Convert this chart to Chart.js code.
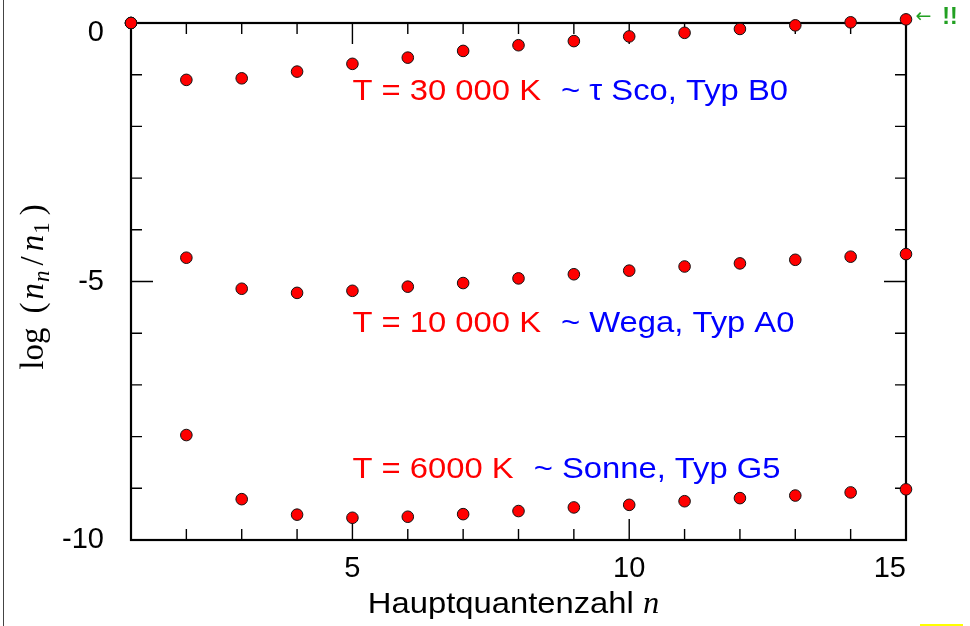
<!DOCTYPE html>
<html>
<head>
<meta charset="utf-8">
<script src="https://cdn.jsdelivr.net/npm/chart.js@4.4.1/dist/chart.umd.min.js"></script>
<style>
html,body{margin:0;padding:0;background:#fff;}
#wrap{position:relative;width:970px;height:626px;overflow:hidden;background:#fff;}
#c{position:absolute;left:0;top:0;width:970px;height:626px;}
#edge{position:absolute;left:3px;top:0;width:1px;height:626px;background:#444;}
#mark{position:absolute;left:920px;top:624px;width:43px;height:2px;background:#ffff00;}
</style>
</head>
<body>
<div id="wrap">
<canvas id="c" width="970" height="626"></canvas>
<div id="edge"></div>
<div id="mark"></div>
</div>
<script>
// ---- data ----
const quantumNumbers = [1, 2, 3, 4, 5, 6, 7, 8, 9, 10, 11, 12, 13, 14, 15];
const logRatio30000 = [0, -1.10, -1.07, -0.94, -0.79, -0.67, -0.54, -0.43, -0.35, -0.26, -0.19, -0.115, -0.045, 0.013, 0.07];
const logRatio10000 = [0, -4.54, -5.14, -5.22, -5.18, -5.10, -5.03, -4.94, -4.86, -4.79, -4.71, -4.65, -4.58, -4.52, -4.47];
const logRatio6000  = [0, -7.97, -9.21, -9.51, -9.57, -9.55, -9.50, -9.44, -9.37, -9.32, -9.25, -9.19, -9.14, -9.08, -9.02];
const xTickLabels = [5, 10, 15];
const yTickLabels = [0, -5, -10];
const tempLabels = ['T = 30 000 K', 'T = 10 000 K', 'T = 6000 K'];
const starLabels = ['~ \u03C4 Sco, Typ B0', '~ Wega, Typ A0', '~ Sonne, Typ G5'];
const labelN = [5, 5, 5];
const labelLog = [-1.33, -5.82, -8.65];
const noteText = ['\u2190', '!!'];
const noteN = 15.17;
const noteLog = 0.11;
const xTitle = ['Hauptquantenzahl ', 'n'];

const SX = 1.13; // horizontal stretch of the reference lettering

function drawRich(ctx, segs, x, y, align) {
  let w = 0;
  segs.forEach(s => { ctx.font = s.font; s.w = ctx.measureText(s.text).width * (s.sx || SX) + (s.gap || 0); w += s.w; });
  let cx = align === 'center' ? x - w / 2 : x;
  segs.forEach(s => {
    ctx.font = s.font; ctx.fillStyle = s.color || '#000';
    ctx.save();
    ctx.translate(cx + (s.gap || 0), y + (s.dy || 0));
    ctx.scale(s.sx || SX, 1);
    ctx.fillText(s.text, 0, 0);
    ctx.restore();
    cx += s.w;
  });
}

const framePlugin = {
  id: 'frame',
  beforeDatasetsDraw(chart) {
    const { ctx, chartArea: a, scales: { x, y } } = chart;
    ctx.save();
    ctx.strokeStyle = '#000';
    ctx.lineWidth = 1.4;
    ctx.beginPath();
    for (let n = Math.ceil(x.min) + 1; n < x.max; n++) {
      const px = x.getPixelForValue(n);
      const len = n % 5 === 0 ? 21 : 11;
      ctx.moveTo(px, a.bottom); ctx.lineTo(px, a.bottom - len);
      ctx.moveTo(px, a.top); ctx.lineTo(px, a.top + len);
    }
    for (let v = Math.ceil(y.min) + 1; v < y.max; v++) {
      const py = y.getPixelForValue(v);
      const len = v % 5 === 0 ? 22 : 11;
      ctx.moveTo(a.left, py); ctx.lineTo(a.left + len, py);
      ctx.moveTo(a.right, py); ctx.lineTo(a.right - len, py);
    }
    ctx.stroke();
    ctx.lineWidth = 2.2;
    ctx.strokeRect(a.left, a.top, a.right - a.left, a.bottom - a.top);
    ctx.restore();
  },
  afterDatasetsDraw(chart) {
    const { ctx, chartArea: a, scales: { x, y } } = chart;
    ctx.save();
    // annotations
    ctx.textBaseline = 'middle';
    tempLabels.forEach((t, i) => {
      drawRich(ctx, [
        { text: t, font: '29px "Liberation Sans"', color: '#ff0000' },
        { text: starLabels[i], font: '29px "Liberation Sans"', color: '#0000ff', gap: 20 }
      ], x.getPixelForValue(labelN[i]), y.getPixelForValue(labelLog[i]), 'left');
    });
    // green note
    drawRich(ctx, [
      { text: noteText[0], font: '19px "DejaVu Sans"', color: '#22a022', sx: 1 },
      { text: noteText[1], font: 'bold 23px "Liberation Sans"', color: '#22a022', gap: 11, sx: 1 }
    ], x.getPixelForValue(noteN), y.getPixelForValue(noteLog), 'left');
    // x title
    ctx.textBaseline = 'alphabetic';
    drawRich(ctx, [
      { text: xTitle[0], font: '29px "Liberation Sans"' },
      { text: xTitle[1], font: 'italic 31px "Liberation Serif"', sx: 1.05 }
    ], (a.left + a.right) / 2 - 5, 613, 'center');
    // y title (rotated)
    ctx.save();
    ctx.translate(43, 287);
    ctx.rotate(-Math.PI / 2);
    const serif = '33px "Liberation Serif"', it = 'italic 33px "Liberation Serif"', sub = 'italic 23px "Liberation Serif"', subR = '23px "Liberation Serif"';
    drawRich(ctx, [
      { text: 'log', font: serif, sx: 1 },
      { text: '(', font: serif, gap: 14, sx: 1 },
      { text: 'n', font: it, gap: 3, sx: 1 },
      { text: 'n', font: sub, dy: 6, gap: 1, sx: 1 },
      { text: '/', font: serif, gap: 5, sx: 1 },
      { text: 'n', font: it, gap: 5, sx: 1 },
      { text: '1', font: subR, dy: 6, gap: 1, sx: 1 },
      { text: ')', font: serif, gap: 7, sx: 1 }
    ], 0, 0, 'center');
    ctx.restore();
    ctx.restore();
  }
};

function series(vals) {
  return quantumNumbers.map((n, i) => ({ x: n, y: vals[i] }));
}
const pointStyle = {
  pointRadius: 5.8,
  pointBackgroundColor: '#ff0000',
  pointBorderColor: '#111',
  pointBorderWidth: 1,
  showLine: false,
  clip: false
};

new Chart(document.getElementById('c'), {
  type: 'scatter',
  data: {
    datasets: [
      Object.assign({ label: 'T = 30 000 K', data: series(logRatio30000) }, pointStyle),
      Object.assign({ label: 'T = 10 000 K', data: series(logRatio10000) }, pointStyle),
      Object.assign({ label: 'T = 6000 K', data: series(logRatio6000) }, pointStyle)
    ]
  },
  options: {
    responsive: false,
    devicePixelRatio: 1,
    animation: false,
    layout: { padding: { left: 0, right: 64, top: 23, bottom: 0 } },
    plugins: { legend: { display: false }, tooltip: { enabled: false } },
    scales: {
      x: {
        type: 'linear', position: 'bottom', min: 1, max: 15,
        grid: { display: false, drawTicks: false },
        border: { display: false },
        afterBuildTicks: s => { s.ticks = [{ value: s.min }].concat(xTickLabels.map(v => ({ value: v }))); },
        afterFit: s => { s.height = 86; s.paddingLeft = 0; s.paddingRight = 0; },
        ticks: {
          autoSkip: false, maxRotation: 0, padding: 12, color: '#000', align: 'inner',
          font: { family: '"Liberation Sans"', size: 29 },
          callback: v => (xTickLabels.includes(v) ? String(v) : '')
        }
      },
      y: {
        type: 'linear', position: 'left', min: -10, max: 0,
        grid: { display: false, drawTicks: false },
        border: { display: false },
        afterBuildTicks: s => { s.ticks = yTickLabels.map(v => ({ value: v })); },
        afterFit: s => { s.width = 131; s.paddingTop = 0; s.paddingBottom = 0; },
        ticks: {
          autoSkip: false, padding: 27, color: '#000',
          font: { family: '"Liberation Sans"', size: 29, lineHeight: '20px' },
          callback: v => (v === 0 ? ['', '0'] : String(v))
        }
      }
    }
  },
  plugins: [framePlugin]
});
</script>
</body>
</html>
